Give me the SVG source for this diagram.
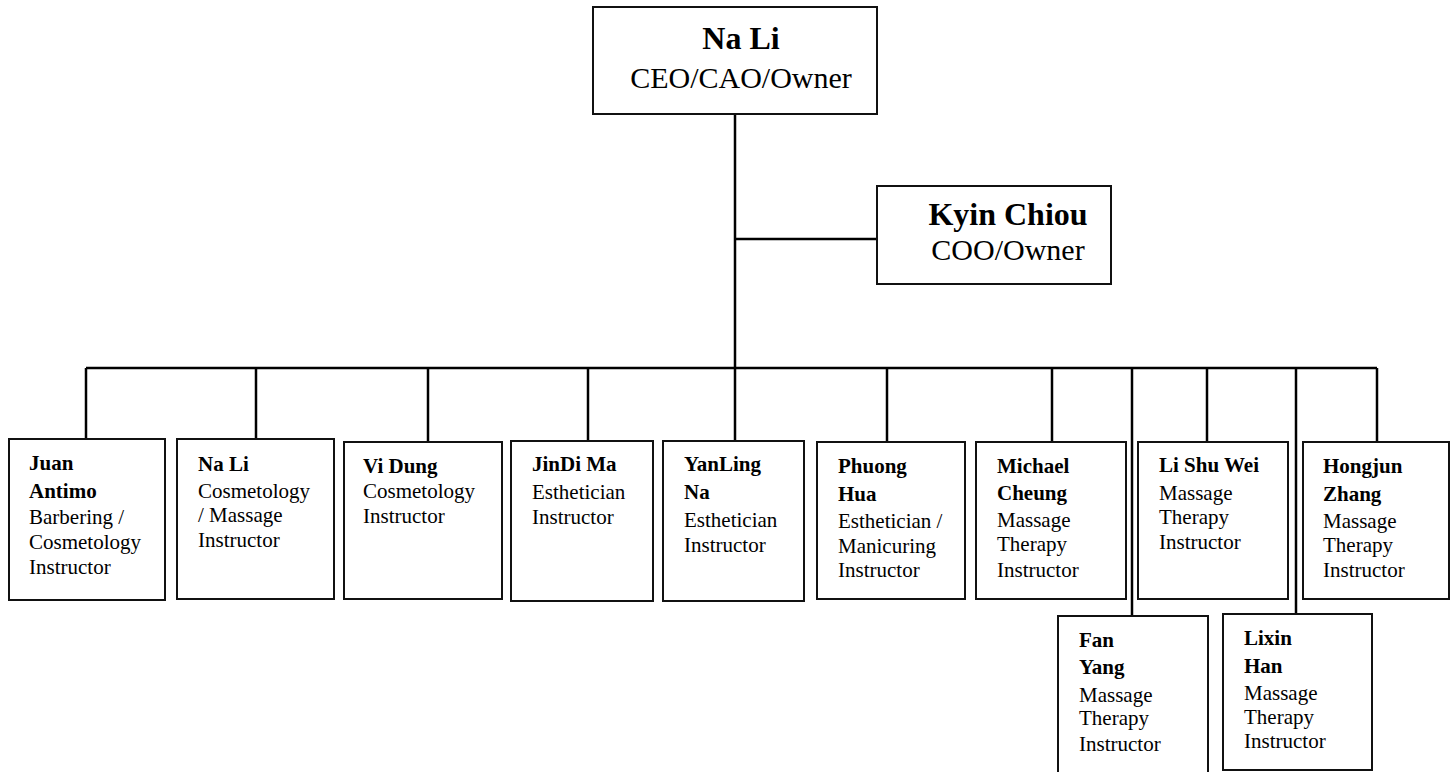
<svg xmlns="http://www.w3.org/2000/svg" width="1451" height="772" viewBox="0 0 1451 772">
<style>
.box{fill:#fff;stroke:#111;stroke-width:2}
.ln{stroke:#000;stroke-width:2.5;fill:none}
text{font-family:"Liberation Serif","Times New Roman",serif;fill:#000}
.big{font-size:32px;font-weight:bold}
.bigr{font-size:30px}
.n{font-size:21px;font-weight:bold}
.r{font-size:21px}
</style>
<rect width="1451" height="772" fill="#fff"/>
<g id="connectors">
<line class="ln" x1="735" y1="114" x2="735" y2="441"/>
<line class="ln" x1="735" y1="239" x2="877" y2="239"/>
<line class="ln" x1="86" y1="368" x2="1377" y2="368"/>
<line class="ln" x1="86" y1="368" x2="86" y2="439"/>
<line class="ln" x1="256" y1="368" x2="256" y2="439"/>
<line class="ln" x1="428" y1="368" x2="428" y2="442"/>
<line class="ln" x1="588" y1="368" x2="588" y2="441"/>
<line class="ln" x1="887" y1="368" x2="887" y2="442"/>
<line class="ln" x1="1052" y1="368" x2="1052" y2="442"/>
<line class="ln" x1="1132" y1="368" x2="1132" y2="616"/>
<line class="ln" x1="1207" y1="368" x2="1207" y2="442"/>
<line class="ln" x1="1296" y1="368" x2="1296" y2="614"/>
<line class="ln" x1="1377" y1="368" x2="1377" y2="442"/>
</g>
<g id="n-nali-ceo">
<rect class="box" x="593" y="7" width="284" height="107"/>
<text class="big" x="741" y="49" text-anchor="middle">Na Li</text>
<text class="bigr" x="741" y="88" text-anchor="middle">CEO/CAO/Owner</text>
</g>
<g id="n-kyin">
<rect class="box" x="877" y="186" width="234" height="98"/>
<text class="big" x="1008" y="225" text-anchor="middle">Kyin Chiou</text>
<text class="bigr" x="1008" y="260" text-anchor="middle">COO/Owner</text>
</g>
<g id="n-juan">
<rect class="box" x="9" y="439" width="156" height="161"/>
<text class="n" x="29" y="470">Juan</text>
<text class="n" x="29" y="498">Antimo</text>
<text class="r" x="29" y="524">Barbering /</text>
<text class="r" x="29" y="549">Cosmetology</text>
<text class="r" x="29" y="574">Instructor</text>
</g>
<g id="n-nali">
<rect class="box" x="177" y="439" width="157" height="160"/>
<text class="n" x="198" y="471">Na Li</text>
<text class="r" x="198" y="498">Cosmetology</text>
<text class="r" x="198" y="522">/ Massage</text>
<text class="r" x="198" y="547">Instructor</text>
</g>
<g id="n-vidung">
<rect class="box" x="344" y="442" width="158" height="157"/>
<text class="n" x="363" y="473">Vi Dung</text>
<text class="r" x="363" y="498">Cosmetology</text>
<text class="r" x="363" y="523">Instructor</text>
</g>
<g id="n-jindi">
<rect class="box" x="511" y="441" width="142" height="160"/>
<text class="n" x="532" y="471">JinDi Ma</text>
<text class="r" x="532" y="499">Esthetician</text>
<text class="r" x="532" y="524">Instructor</text>
</g>
<g id="n-yanling">
<rect class="box" x="663" y="441" width="141" height="160"/>
<text class="n" x="684" y="471">YanLing</text>
<text class="n" x="684" y="499">Na</text>
<text class="r" x="684" y="527">Esthetician</text>
<text class="r" x="684" y="552">Instructor</text>
</g>
<g id="n-phuong">
<rect class="box" x="817" y="442" width="148" height="157"/>
<text class="n" x="838" y="473">Phuong</text>
<text class="n" x="838" y="501">Hua</text>
<text class="r" x="838" y="528">Esthetician /</text>
<text class="r" x="838" y="553">Manicuring</text>
<text class="r" x="838" y="577">Instructor</text>
</g>
<g id="n-michael">
<rect class="box" x="976" y="442" width="150" height="157"/>
<text class="n" x="997" y="473">Michael</text>
<text class="n" x="997" y="500">Cheung</text>
<text class="r" x="997" y="527">Massage</text>
<text class="r" x="997" y="551">Therapy</text>
<text class="r" x="997" y="577">Instructor</text>
</g>
<g id="n-lishuwei">
<rect class="box" x="1138" y="442" width="150" height="157"/>
<text class="n" x="1159" y="472">Li Shu Wei</text>
<text class="r" x="1159" y="500">Massage</text>
<text class="r" x="1159" y="524">Therapy</text>
<text class="r" x="1159" y="549">Instructor</text>
</g>
<g id="n-hongjun">
<rect class="box" x="1303" y="442" width="146" height="157"/>
<text class="n" x="1323" y="473">Hongjun</text>
<text class="n" x="1323" y="501">Zhang</text>
<text class="r" x="1323" y="528">Massage</text>
<text class="r" x="1323" y="552">Therapy</text>
<text class="r" x="1323" y="577">Instructor</text>
</g>
<g id="n-fanyang">
<rect class="box" x="1058" y="616" width="150" height="160"/>
<text class="n" x="1079" y="647">Fan</text>
<text class="n" x="1079" y="674">Yang</text>
<text class="r" x="1079" y="702">Massage</text>
<text class="r" x="1079" y="725">Therapy</text>
<text class="r" x="1079" y="751">Instructor</text>
</g>
<g id="n-lixin">
<rect class="box" x="1223" y="614" width="149" height="156"/>
<text class="n" x="1244" y="645">Lixin</text>
<text class="n" x="1244" y="673">Han</text>
<text class="r" x="1244" y="700">Massage</text>
<text class="r" x="1244" y="724">Therapy</text>
<text class="r" x="1244" y="748">Instructor</text>
</g>
</svg>
